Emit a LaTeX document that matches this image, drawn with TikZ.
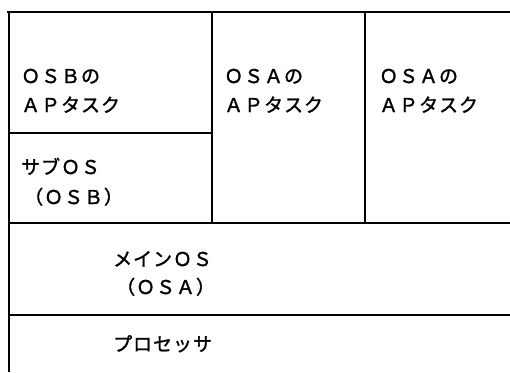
\documentclass[tikz,border=0pt]{standalone}
\usepackage{fontspec}
\newfontfamily\jp[LetterSpace=5,FakeBold=1.5]{Noto Sans CJK JP}
\tikzset{
  lbl/.style={anchor=base west, inner sep=0pt, font=\jp\fontsize{19}{22}\selectfont},
  thick line/.style={line width=2pt},
  thin line/.style={line width=1.3pt},
}
\begin{document}
\begin{tikzpicture}[x=1pt,y=-1pt]
\useasboundingbox (0,0) rectangle (510,372);
% outer lines
\draw[thick line] (7,12) -- (510,12);
\draw[thick line] (8.5,12) -- (8.5,372);
% inner lines
\draw[thin line] (212,12) -- (212,223);
\draw[line width=1.1pt] (365,12) -- (365,223);
\draw[thin line] (8.5,133) -- (212,133);
\draw[line width=1.5pt] (8.5,223) -- (510,223);
\draw[thin line] (8.5,315) -- (510,315);
% texts
\node[lbl] (b1) at (21,83) {ＯＳＢの};
\node[lbl] (b2) at (21,112) {ＡＰタスク};
\node[lbl] (a1) at (224,83) {ＯＳＡの};
\node[lbl] (a2) at (224,112) {ＡＰタスク};
\node[lbl] (c1) at (379,83) {ＯＳＡの};
\node[lbl] (c2) at (379,112) {ＡＰタスク};
\node[lbl] (s1) at (21,174) {サブＯＳ};
\node[lbl] (s2) at (24,204) {（ＯＳＢ）};
\node[lbl] (m1) at (113,266) {メインＯＳ};
\node[lbl] (m2) at (116,294) {（ＯＳＡ）};
\node[lbl] (p) at (113,351) {プロセッサ};
\end{tikzpicture}
\end{document}
